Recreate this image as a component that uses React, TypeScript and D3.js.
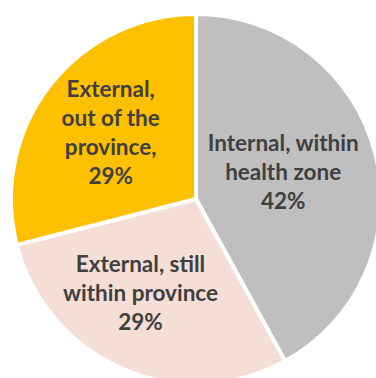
import React from "react";
import * as d3 from "d3";

const categories = ["Internal, within health zone", "External, still within province", "External, out of the province"];
const values = [42, 29, 29];
const labelLines = [
  ["Internal, within", "health zone", "42%"],
  ["External, still", "within province", "29%"],
  ["External,", "out of the", "province,", "29%"],
];
const colors = ["#BFBFBF", "#F4DED5", "#FFC000"];

const W = 376;
const H = 378;
const cx = 196;
const cy = 199;
const R = 185;
const labelR = [90, 102, 108];
const nudge = [[0, -5], [-15, 0], [0, 0]];

export default function App() {
  const pie = d3.pie<number>().sort(null).startAngle(0).endAngle(2 * Math.PI);
  const arcs = pie(values);
  const arc = d3.arc<d3.PieArcDatum<number>>().innerRadius(0).outerRadius(R);
  const lineH = 29;
  return (
    <svg width={W} height={H} style={{ position: "absolute", left: 0, top: 0 }}>
      <g transform={`translate(${cx},${cy})`}>
        {arcs.map((a, i) => (
          <path key={categories[i]} d={arc(a) || ""} fill={colors[i]} stroke="#fff" strokeWidth={4} strokeLinejoin="round" />
        ))}
        {arcs.map((a, i) => {
          const mid = (a.startAngle + a.endAngle) / 2;
          const x = Math.sin(mid) * labelR[i] + nudge[i][0];
          const y = -Math.cos(mid) * labelR[i] + nudge[i][1];
          const lines = labelLines[i];
          const y0 = y - ((lines.length - 1) * lineH) / 2;
          return (
            <text key={"t" + i} textAnchor="middle" fontFamily="Lato, 'Open Sans', sans-serif" fontWeight="bold" fontSize={22.5} fill="#404040">
              {lines.map((l, j) => (
                <tspan key={j} x={x} y={y0 + j * lineH + 8}>{l}</tspan>
              ))}
            </text>
          );
        })}
      </g>
    </svg>
  );
}
